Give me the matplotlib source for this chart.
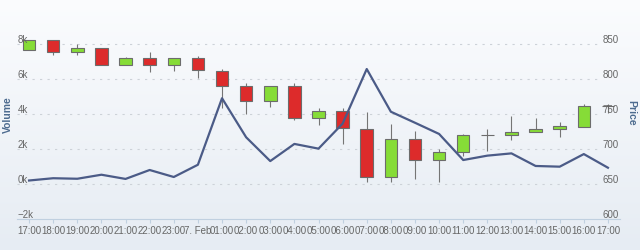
import matplotlib.pyplot as plt
import matplotlib.transforms as mtrans
from matplotlib.colors import LinearSegmentedColormap
import numpy as np

plt.rcParams['font.family'] = ['Liberation Sans', 'DejaVu Sans']
plt.rcParams['lines.scale_dashes'] = False

# hourly categories
labels = ['17:00', '18:00', '19:00', '20:00', '21:00', '22:00', '23:00', '7. Feb',
          '01:00', '02:00', '03:00', '04:00', '05:00', '06:00', '07:00', '08:00',
          '09:00', '10:00', '11:00', '12:00', '13:00', '14:00', '15:00', '16:00', '17:00']

# OHLC price
open_ = [841, 856, 839, 844, 820, 830, 820, 830, 812, 790, 769, 790, 745,
         754, 729, 660, 714, 685, 696, 720, 720, 725, 729, 732, 762]
high = [856, 856, 850, 844, 832, 839, 830, 833, 815, 795, 790, 794, 759,
        759, 753, 736, 726, 700, 721, 729, 747, 745, 738, 765, 765]
low = [841, 834, 834, 820, 820, 810, 812, 801, 759, 750, 760, 741, 735,
       707, 653, 653, 657, 653, 690, 697, 713, 725, 717, 732, 751]
close = [856, 839, 844, 820, 830, 820, 830, 813, 790, 769, 790, 745, 754,
         730, 660, 714, 685, 696, 720, 720, 725, 729, 733, 762, 762]

# volume line
volume = [200, 330, 300, 530, 290, 800, 400, 1100, 4900, 2670, 1310, 2290, 2020,
          3450, 6570, 4130, 3500, 2860, 1370, 1620, 1750, 1030, 990, 1710, 930]

vol_ticks = [-2000, 0, 2000, 4000, 6000, 8000]
vol_labels = ['\u22122k', '0k', '2k', '4k', '6k', '8k']
price_ticks = [600, 650, 700, 750, 800, 850]

fig = plt.figure(figsize=(6.4, 2.5), dpi=100)

# background gradient
bg = fig.add_axes([0, 0, 1, 1], zorder=-10)
grad = np.linspace(0, 1, 256).reshape(-1, 1)
cmap = LinearSegmentedColormap.from_list('bg', ['#fbfcfe', '#e6ecf3'])
bg.imshow(grad, aspect='auto', cmap=cmap, extent=[0, 1, 0, 1], origin='upper')
bg.axis('off')

ax = fig.add_axes([17/640, 31/250, 603/640, 207/250])
ax.patch.set_alpha(0)
x = np.arange(len(labels))
ax.set_xlim(-0.5, len(labels) - 0.5)
ax.set_ylim(600, 600 + 207 / 0.7)

# grid
for p in price_ticks[1:]:
    ax.axhline(p, xmax=0.967, color='#cdd2d8', lw=0.8, ls=(0, (1.6, 3.8)), zorder=1)

# candles
o = np.array(open_)
c = np.array(close)
colors = ['#86dc37' if cc >= oo else '#dd2b2b' for oo, cc in zip(o, c)]
ax.vlines(x, low, high, color='#757575', lw=0.8, zorder=2)
ax.bar(x, np.abs(c - o), bottom=np.minimum(o, c), width=0.52, color=colors,
       edgecolor='#6c6c6c', linewidth=0.8, zorder=3)

ax2 = ax.twinx()
ax2.set_ylim(-2000, -2000 + 207 * 2000 / 35)
ax2.plot(x, volume, color='#4b5b87', lw=1.6, zorder=5)

for a in (ax, ax2):
    for s in ['left', 'right', 'top']:
        a.spines[s].set_visible(False)
    a.set_yticks([])
ax2.spines['bottom'].set_visible(False)
ax.spines['bottom'].set_color('#c0d0e0')
ax.set_xticks(x, labels)
ax.tick_params(axis='x', length=3, color='#c0d0e0', labelsize=7,
               labelcolor='#666666', pad=2)

# tick labels drawn inside the plot
lt = mtrans.offset_copy(mtrans.blended_transform_factory(ax2.transAxes, ax2.transData),
                        fig=fig, y=1, units='dots')
for v, lab in zip(vol_ticks, vol_labels):
    ax2.text(1/603, v, lab, transform=lt, ha='left', va='baseline',
             fontsize=7, color='#666666')
rt = mtrans.offset_copy(mtrans.blended_transform_factory(ax.transAxes, ax.transData),
                        fig=fig, y=1, units='dots')
for p in price_ticks:
    ax.text(0.998, p, str(p), transform=rt, ha='right', va='baseline',
            fontsize=7, color='#666666')

fig.text(8/640, 1 - 115/250, 'Volume', rotation=90, ha='center', va='center',
         fontsize=7.5, fontweight='bold', color='#4d6b8f')
fig.text(631/640, 1 - 113/250, 'Price', rotation=270, ha='center', va='center',
         fontsize=7.5, fontweight='bold', color='#4d6b8f')

fig.savefig('out.png', dpi=100)
